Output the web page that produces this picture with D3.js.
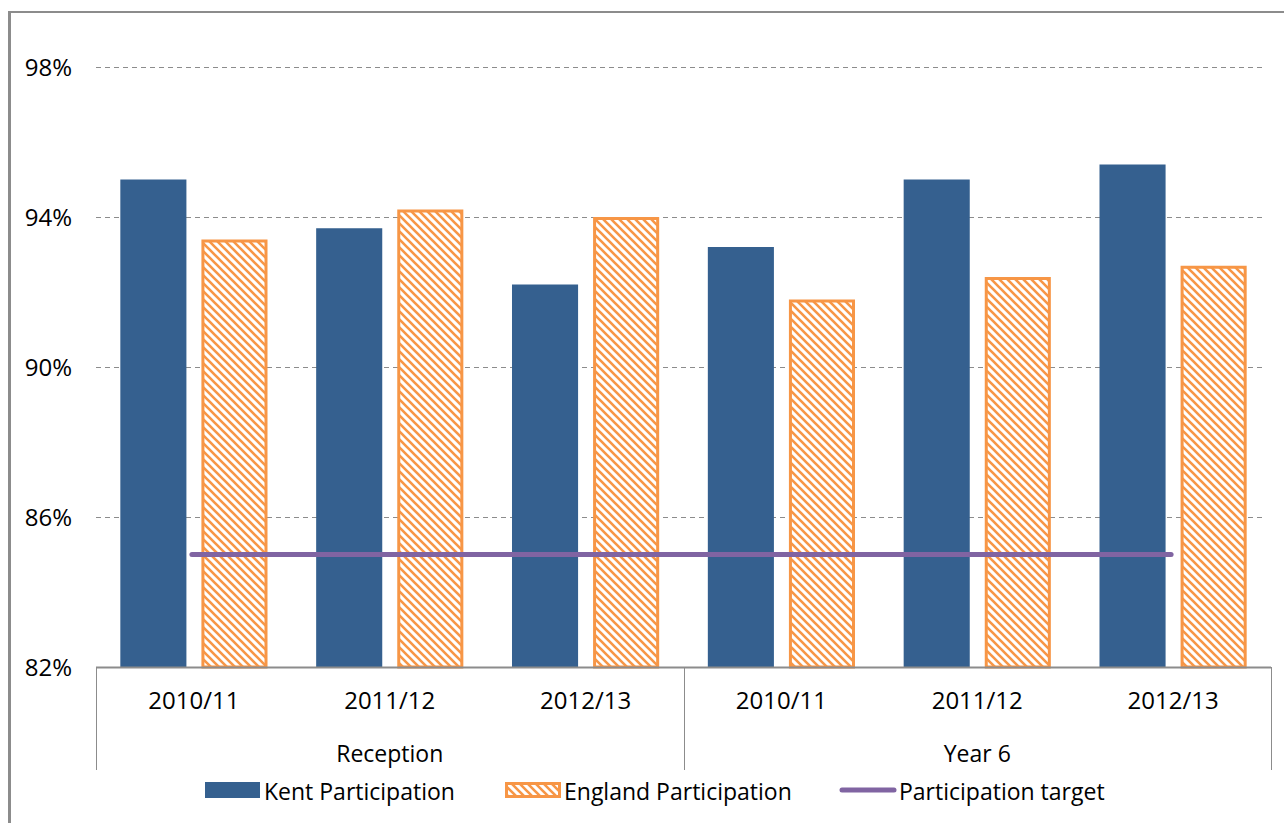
<!DOCTYPE html>
<html>
<head>
<meta charset="utf-8">
<script src="https://cdn.jsdelivr.net/npm/d3@7"></script>
<style>
  html, body { margin: 0; padding: 0; background: #fff; }
  svg { display: block; }
  text { font-family: "Open Sans", sans-serif; fill: #000; }
</style>
</head>
<body>
<svg id="chart" width="1284" height="823"></svg>
<script>
// ---- data ----
const groups = ["Reception", "Year 6"];
const years = ["2010/11", "2011/12", "2012/13"];
const categories = ["Reception|2010/11", "Reception|2011/12", "Reception|2012/13",
                    "Year 6|2010/11", "Year 6|2011/12", "Year 6|2012/13"];
const kent = [95.0, 93.7, 92.2, 93.2, 95.0, 95.4];
const england = [93.4, 94.2, 94.0, 91.8, 92.4, 92.7];
const target = [85, 85, 85, 85, 85, 85];
const yTicks = [82, 86, 90, 94, 98];
const seriesNames = ["Kent Participation", "England Participation", "Participation target"];

(function () {
const colors = { kent: "#35608F", england: "#F79646", target: "#8064A2", grid: "#8C8C8C", axis: "#8C8C8C" };
const FS = 23, FN = 24;
const FF = "'Open Sans', sans-serif";

const svg = d3.select("#chart");
const defs = svg.append("defs");
const pat = defs.append("pattern")
  .attr("id", "hatch").attr("patternUnits", "userSpaceOnUse")
  .attr("width", 8).attr("height", 8);
pat.append("rect").attr("width", 8).attr("height", 8).attr("fill", "#fff");
pat.append("path").attr("d", "M-2,-2 L10,10 M-2,6 L2,10 M6,-2 L10,2")
  .attr("stroke", colors.england).attr("stroke-width", 2.6);

// outer frame
svg.append("line").attr("x1", 9.5).attr("x2", 9.5).attr("y1", 11).attr("y2", 823)
  .attr("stroke", "#8C8C8C").attr("stroke-width", 3);
svg.append("line").attr("x1", 9).attr("x2", 1284).attr("y1", 12).attr("y2", 12)
  .attr("stroke", "#8C8C8C").attr("stroke-width", 2);

const pLeft = 96, pRight = 1271, pTop = 67, pBottom = 667;
const x = d3.scaleBand().domain(categories).range([pLeft, pRight]);
const inner = d3.scaleBand().domain(["kent", "england"]).range([0, x.bandwidth()])
  .paddingInner(0.185).paddingOuter(0.3);
const y = d3.scaleLinear().domain([82, 98]).range([pBottom, pTop]);

// gridlines
const grid = svg.append("g");
yTicks.filter(t => t !== 82).forEach(t => {
  grid.append("line").attr("x1", pLeft).attr("x2", 1266)
    .attr("y1", Math.round(y(t)) + 0.5).attr("y2", Math.round(y(t)) + 0.5)
    .attr("stroke", colors.grid).attr("stroke-width", 1).attr("stroke-dasharray", "5,4");
});

// y labels
const yAxis = d3.axisLeft(y).tickValues(yTicks).tickFormat(d => d + "%").tickSize(0).tickPadding(0);
const yg = svg.append("g").attr("transform", `translate(72,0)`).call(yAxis);
yg.select(".domain").remove();
yg.selectAll("text").attr("font-size", FN).attr("font-family", FF).attr("fill", "#000").attr("dy", "0.37em");

// bars
categories.forEach((c, i) => {
  svg.append("rect")
    .attr("x", x(c) + inner("kent")).attr("width", inner.bandwidth())
    .attr("y", y(kent[i])).attr("height", y(82) - y(kent[i]))
    .attr("fill", colors.kent);
  svg.append("rect")
    .attr("x", x(c) + inner("england") + 1.5).attr("width", inner.bandwidth() - 3)
    .attr("y", y(england[i]) + 1.5).attr("height", y(82) - y(england[i]) - 1.5)
    .attr("fill", "url(#hatch)").attr("stroke", colors.england).attr("stroke-width", 3);
});

// target line
const line = d3.line().x((d, i) => x(categories[i]) + x.bandwidth() / 2 - 2).y(d => y(d));
svg.append("path").datum(target).attr("d", line)
  .attr("fill", "none").attr("stroke", colors.target).attr("stroke-width", 5).attr("stroke-linecap", "round");

// x axis
svg.append("line").attr("x1", pLeft).attr("x2", pRight).attr("y1", pBottom + 0.5).attr("y2", pBottom + 0.5)
  .attr("stroke", colors.axis).attr("stroke-width", 2);
[pLeft, (pLeft + pRight) / 2, pRight].forEach(xx => {
  svg.append("line").attr("x1", Math.round(xx) + 0.5).attr("x2", Math.round(xx) + 0.5)
    .attr("y1", pBottom).attr("y2", 770).attr("stroke", colors.axis).attr("stroke-width", 1);
});
categories.forEach(c => {
  svg.append("text").attr("x", x(c) + x.bandwidth() / 2).attr("y", 709)
    .attr("text-anchor", "middle").attr("font-size", FN).text(c.split("|")[1]);
});
groups.forEach((g, i) => {
  const cx = pLeft + (pRight - pLeft) / 4 * (2 * i + 1);
  svg.append("text").attr("x", cx).attr("y", 762)
    .attr("text-anchor", "middle").attr("font-size", FS).text(g);
});

// legend
const leg = svg.append("g");
leg.append("rect").attr("x", 205).attr("y", 782).attr("width", 55).attr("height", 16).attr("fill", colors.kent);
leg.append("text").attr("x", 264).attr("y", 800).attr("font-size", FS).text(seriesNames[0]);
leg.append("rect").attr("x", 506.5).attr("y", 783.5).attr("width", 53).attr("height", 13)
  .attr("fill", "url(#hatch)").attr("stroke", colors.england).attr("stroke-width", 3);
leg.append("text").attr("x", 564).attr("y", 800).attr("font-size", FS).text(seriesNames[1]);
leg.append("line").attr("x1", 842).attr("x2", 894).attr("y1", 790).attr("y2", 790)
  .attr("stroke", colors.target).attr("stroke-width", 5).attr("stroke-linecap", "round");
leg.append("text").attr("x", 899).attr("y", 800).attr("font-size", FS).text(seriesNames[2]);
})();
</script>
</body>
</html>
